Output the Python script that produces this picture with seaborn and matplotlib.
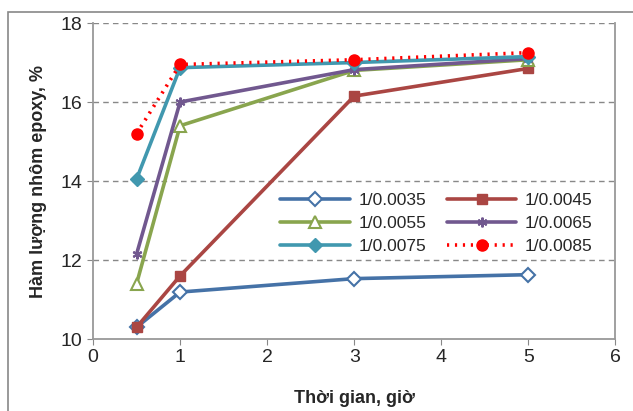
import matplotlib
matplotlib.use("Agg")
import matplotlib.pyplot as plt
import seaborn as sns
import pandas as pd
from matplotlib.patches import Rectangle

# Dữ liệu
thoi_gian = [0.5, 1, 3, 5]
s_0035 = [10.30, 11.19, 11.53, 11.63]
s_0045 = [10.30, 11.60, 16.15, 16.85]
s_0055 = [11.40, 15.40, 16.80, 17.07]
s_0065 = [12.15, 16.00, 16.82, 17.10]
s_0075 = [14.05, 16.87, 17.00, 17.15]
s_0085 = [15.20, 16.95, 17.07, 17.25]
nhan = ["1/0.0035", "1/0.0045", "1/0.0055", "1/0.0065", "1/0.0075", "1/0.0085"]
x_ticks = [0, 1, 2, 3, 4, 5, 6]
y_ticks = [10, 12, 14, 16, 18]

series = [s_0035, s_0045, s_0055, s_0065, s_0075, s_0085]
styles = [
    dict(color="#4572A7", marker="D", mfc="white", mec="#4572A7", ms=7, mew=1.5, ls="-"),
    dict(color="#AA4643", marker="s", mfc="#AA4643", mec="#AA4643", ms=7, mew=1, ls="-"),
    dict(color="#89A54E", marker="^", mfc="white", mec="#89A54E", ms=9, mew=1.5, ls="-"),
    dict(color="#71588F", marker=(6, 2, 0), mfc="#71588F", mec="#71588F", ms=7, mew=1.5, ls="-"),
    dict(color="#4198AF", marker="D", mfc="#4198AF", mec="#4198AF", ms=7, mew=1, ls="-"),
    dict(color="#FF0000", marker="o", mfc="#FF0000", mec="#FF0000", ms=8, mew=1, ls=(0, (0.6, 1.6))),
]

sns.set_style("white")
plt.rcParams['font.family'] = ['Liberation Sans', 'DejaVu Sans']

fig, ax = plt.subplots(figsize=(6.33, 4.11), dpi=100)
fig.subplots_adjust(left=0.147, right=0.972, top=0.944, bottom=0.175)

for vals, lab, st in zip(series, nhan, styles):
    df = pd.DataFrame({"t": thoi_gian, "v": vals})
    sns.lineplot(data=df, x="t", y="v", ax=ax, label=lab, color=st["color"],
                 linewidth=2.6, linestyle=st["ls"], marker=st["marker"],
                 markersize=st["ms"], markerfacecolor=st["mfc"],
                 markeredgecolor=st["mec"], markeredgewidth=st["mew"])

ax.set_xlim(0, 6)
ax.set_ylim(10, 18)
ax.set_xticks(x_ticks)
ax.set_yticks(y_ticks)
ax.tick_params(axis="both", labelsize=14, length=4, color="#888888", direction="out",
               bottom=True, left=True)
for y in y_ticks[1:]:
    ax.axhline(y, color="#888888", lw=1, ls=(0, (4, 3)), zorder=0)
for side in ["left", "right", "bottom"]:
    ax.spines[side].set_color("#999999")
    ax.spines[side].set_linewidth(1.3)
ax.spines["top"].set_visible(False)

ax.set_xlabel("Thời gian, giờ", fontsize=13, fontweight="bold", labelpad=17)
ax.set_ylabel("Hàm lượng nhôm epoxy, %", fontsize=13, fontweight="bold", labelpad=10)

# legend theo hàng (row-major)
h, l = ax.get_legend_handles_labels()
order = [0, 2, 4, 1, 3, 5]
leg = ax.legend([h[i] for i in order], [l[i] for i in order], ncol=2, loc="upper left",
                bbox_to_anchor=(0.335, 0.50), fontsize=12.5, frameon=True, framealpha=1,
                edgecolor="white", handlelength=4.0, columnspacing=1.2, labelspacing=0.45,
                borderpad=0.2, handletextpad=0.5)
leg.get_frame().set_linewidth(0)

fig.patches.append(Rectangle((0.013, -0.05), 1.1, 1.021, transform=fig.transFigure,
                             fill=False, edgecolor="#888888", lw=1.2))

fig.savefig("out.png", dpi=100)
